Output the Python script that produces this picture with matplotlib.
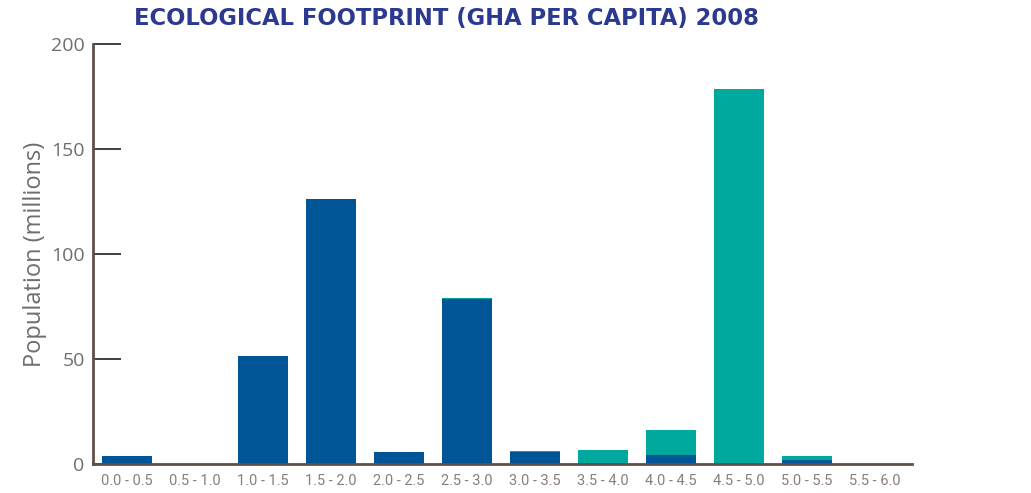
import matplotlib
matplotlib.use('Agg')
import matplotlib.pyplot as plt
import numpy as np

# 데이터
categories = ['0.0 - 0.5', '0.5 - 1.0', '1.0 - 1.5', '1.5 - 2.0', '2.0 - 2.5', '2.5 - 3.0',
              '3.0 - 3.5', '3.5 - 4.0', '4.0 - 4.5', '4.5 - 5.0', '5.0 - 5.5', '5.5 - 6.0']
blue_vals = [3.8, 0, 51.4, 126.2, 5.7, 78.6, 5.7, 0, 4.3, 0, 2.0, 0]
teal_vals = [0, 0, 0, 0, 0, 0.4, 0.3, 6.7, 11.9, 178.6, 1.8, 0]
yticks = [0, 50, 100, 150, 200]

BLUE = '#005596'
TEAL = '#00A99D'
SPINE = '#5E5048'
GREY = '#6D6E71'

fig = plt.figure(figsize=(10.31, 4.93), dpi=100)
ax = fig.add_axes([93 / 1031, 29 / 493, 819 / 1031, 420 / 493])

x = np.arange(len(categories))
ax.bar(x, blue_vals, width=0.735, color=BLUE, linewidth=0)
ax.bar(x, teal_vals, width=0.735, bottom=blue_vals, color=TEAL, linewidth=0)

ax.set_xlim(-0.5, 11.55)
ax.set_ylim(0, 200)

for s in ['top', 'right']:
    ax.spines[s].set_visible(False)
for s in ['left', 'bottom']:
    ax.spines[s].set_color(SPINE)
    ax.spines[s].set_linewidth(2)

ax.set_yticks(yticks)
ax.set_yticklabels([str(v) for v in yticks], fontsize=14, color=GREY, family='Open Sans')
ax.tick_params(axis='y', direction='in', length=20, width=1.2, color='#231F20', pad=6)
ax.get_yticklines()[-2].set_color(SPINE)
ax.get_yticklines()[-2].set_linewidth(2)

ax.set_xticks(x)
ax.set_xticklabels(categories, fontsize=10.5, color='#8A7F77', family='Roboto')
ax.tick_params(axis='x', length=0, pad=7)

ax.set_ylabel('Population (millions)', fontsize=17, color=GREY, labelpad=3, family='Open Sans')

fig.text(0.433, 0.962, 'ECOLOGICAL FOOTPRINT (GHA PER CAPITA) 2008', ha='center', va='center',
         fontsize=16.3, fontweight='heavy', color='#2B3990')

fig.savefig('out.png', dpi=100)
plt.close(fig)
